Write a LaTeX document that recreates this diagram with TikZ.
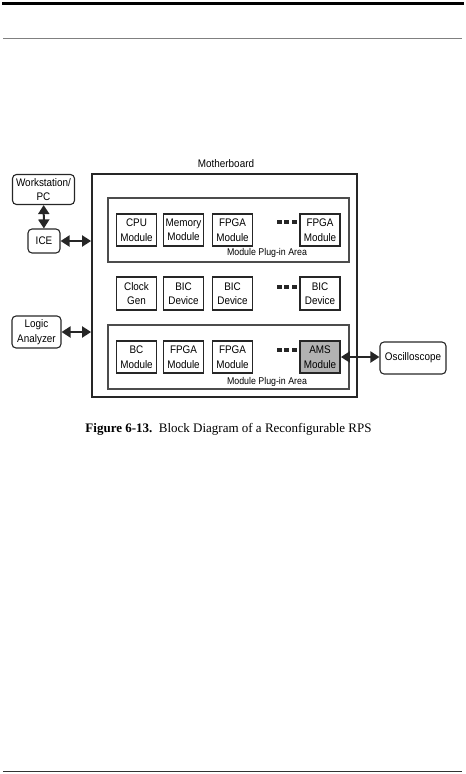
\documentclass[tikz,border=0pt]{standalone}
\usepackage{fontspec}
\setmainfont{Liberation Serif}
\setsansfont{Liberation Sans}[FakeStretch=0.9]
\usetikzlibrary{arrows.meta}
\begin{document}
\begin{tikzpicture}[x=1pt, y=-1pt,
    font=\sffamily\fontsize{11}{14.5}\selectfont,
    modbox/.style={draw=black!85, line width=1.8pt, minimum width=40pt, minimum height=32.5pt, inner sep=0pt, align=center},
    extbox/.style={draw=black!85, line width=1.1pt, rounded corners=4pt, inner sep=0pt, align=center},
    areabox/.style={draw=black!70, line width=1.2pt, minimum width=241pt, minimum height=64pt},
    dblarrow/.style={{Triangle[length=9pt,width=11pt]}-{Triangle[length=9pt,width=11pt]}, line width=2pt, draw=black!85}]
  \useasboundingbox (0,0) rectangle (466,774);
  \draw[line width=3pt] (2,3) -- (464,3);
  \draw[black!50, line width=1pt] (3,38.5) -- (462,38.5);
  \draw[black!80, line width=1pt] (3,771) -- (462,771);

  \node[draw=black!85, line width=1.8pt, minimum width=265pt, minimum height=223pt] (mb) at (224.5,285.5) {};
  \node (mblabel) at (226,164) {Motherboard};
  \node[areabox] (areaA) at (228.5,230) {};
  \node[areabox] (areaB) at (228.5,357) {};
  \node[font=\sffamily\fontsize{9.8}{10}\selectfont] (areaAlabel) at (267,253) {Module Plug-in Area};
  \node[font=\sffamily\fontsize{9.8}{10}\selectfont] (areaBlabel) at (267,382) {Module Plug-in Area};

  \foreach \name/\x/\y/\txt in {cpu/136.5/230/{CPU\\Module}, mem/183.5/230/{Memory\\Module},
      fpgaA/232.5/230/{FPGA\\Module}, fpgaB/320/230/{FPGA\\Module},
      clk/136.5/293.5/{Clock\\Gen}, bicA/183.5/293.5/{BIC\\Device},
      bicB/232.5/293.5/{BIC\\Device}, bicC/320/293.5/{BIC\\Device},
      bc/136.5/357/{BC\\Module}, fpgaC/183.5/357/{FPGA\\Module}, fpgaD/232.5/357/{FPGA\\Module}}
    \node[modbox] (\name) at (\x,\y) {\txt};
  \node[modbox, fill=black!30] (ams) at (320,357) {AMS\\Module};

  \foreach \y in {222,286.5,350}
    \foreach \x in {279,286.5,294}
      \fill[black!85] (\x-2.5,\y-2) rectangle (\x+2.5,\y+2);

  \node[extbox, minimum width=62pt, minimum height=30pt] (ws) at (43.5,189.5) {Workstation/\\PC};
  \node[extbox, minimum width=32pt, minimum height=24pt] (ice) at (44,241) {ICE};
  \node[extbox, minimum width=49pt, minimum height=32pt] (la) at (36.5,332) {Logic\\Analyzer};
  \node[extbox, minimum width=66pt, minimum height=32pt] (osc) at (413,358) {Oscilloscope};

  \draw[dblarrow] (ws) -- (ice);
  \draw[dblarrow] (ice) -- (ice -| mb.west);
  \draw[dblarrow] (la) -- (la -| mb.west);
  \draw[dblarrow] (ams) -- (ams -| osc.west);

  \node[font=\rmfamily\fontsize{13}{15}\selectfont] (caption) at (228.5,429)
    {\textbf{Figure 6-13.}\ \ Block Diagram of a Reconfigurable RPS};
\end{tikzpicture}
\end{document}
